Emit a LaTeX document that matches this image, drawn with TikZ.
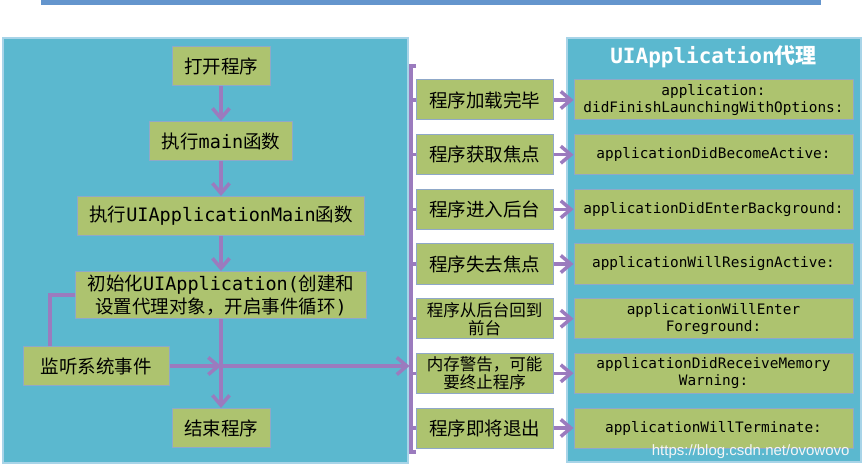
\documentclass[tikz,border=0pt]{standalone}
\usepackage{fontspec}
\setmainfont{DejaVu Sans Mono}
\newfontfamily\cjk{Noto Sans CJK SC}
\newfontfamily\urlfont{Liberation Sans}
\usetikzlibrary{arrows.meta,positioning,calc}
\newcommand{\zh}[1]{{\cjk #1}}
\definecolor{panelfill}{HTML}{5BB8CF}
\definecolor{panelline}{HTML}{A8D4E8}
\definecolor{boxfill}{HTML}{ADC36F}
\definecolor{boxline}{HTML}{8FA8C8}
\definecolor{flowcol}{HTML}{9B7BBE}
\definecolor{topbar}{HTML}{6495CD}
\tikzset{
  >={Straight Barb[length=10pt,width=17pt]},
  panel/.style={draw=panelline, line width=1.5pt, fill=panelfill},
  stepbox/.style={draw=boxline, line width=1pt, fill=boxfill, minimum height=39pt,
    inner xsep=12pt, inner ysep=2pt, align=center, font=\fontsize{18.5}{23}\selectfont},
  eventbox/.style={stepbox, minimum width=137pt, minimum height=40pt, inner xsep=1pt,
    font=\cjk\fontsize{18.5}{21}\selectfont},
  smallzh/.style={font=\cjk\fontsize{16.5}{18}\selectfont},
  methodbox/.style={stepbox, minimum width=279pt, minimum height=40pt, inner xsep=2pt,
    font=\fontsize{14.4}{17}\selectfont},
  title/.style={text=white, font=\bfseries\fontsize{21}{23}\selectfont},
  flow/.style={->, draw=flowcol, line width=3.5pt},
  bus/.style={draw=flowcol, line width=3.5pt, line join=miter},
}
\begin{document}
\begin{tikzpicture}[x=1pt,y=-1pt]
    \useasboundingbox (0,0) rectangle (864,470);

    % Top rule
    \fill[topbar] (41,0) rectangle (821,5);

    % Panels
    \draw[panel] (3,38) rectangle (408,463);
    \draw[panel] (567,38) rectangle (861,462);

    % Program flow
    \node[stepbox] (open) at (221,66) {\zh{打开程序}};
    \node[stepbox] (main) at (221,141) {\zh{执行}main\zh{函数}};
    \node[stepbox] (uimain) at (221,216) {\zh{执行}UIApplicationMain\zh{函数}};
    \node[stepbox, minimum height=47pt] (init) at (221,295)
        {\zh{初始化}UIApplication(\zh{创建和}\\\zh{设置代理对象，开启事件循环})};
    \node[stepbox, minimum width=146pt, inner xsep=2pt] (listen) at (96,366) {\zh{监听系统事件}};
    \node[stepbox] (finish) at (221,428) {\zh{结束程序}};

    \draw[flow] (open) -- (main);
    \draw[flow] (main) -- (uimain);
    \draw[flow] (uimain) -- (init);
    \draw[flow] (init) -- (finish);

    \coordinate (tap) at (50,0);
    \draw[bus] (listen.north -| tap) |- (init.west);

    % Events to the delegate
    \coordinate (meet) at (init.south |- listen.east);
    \coordinate (bustop) at (416,66);
    \coordinate (busbot) at (416,452);
    \coordinate (busx) at (409.5,0);
    \draw[bus] (bustop) -- ++(-5,0) |- (busbot);
    \draw[flow] (listen.east) -- (meet);
    \draw[flow] (meet) -- (meet -| busx);

    \node[eventbox] (ev1) at (484.5,100) {程序加载完毕};
    \node[eventbox] (ev2) at (484.5,154.7) {程序获取焦点};
    \node[eventbox] (ev3) at (484.5,209.3) {程序进入后台};
    \node[eventbox] (ev4) at (484.5,264) {程序失去焦点};
    \node[eventbox, smallzh] (ev5) at (484.5,318.7) {程序从后台回到\\前台};
    \node[eventbox, smallzh] (ev6) at (484.5,373.3) {内存警告，可能\\要终止程序};
    \node[eventbox] (ev7) at (484.5,428) {程序即将退出};

    % Delegate methods
    \node[title] (deltitle) at (713.5,57) {UIApplication\zh{代理}};
    \node[methodbox] (m1) at (713.5,100) {application:\\didFinishLaunchingWithOptions:};
    \node[methodbox] (m2) at (713.5,154.7) {applicationDidBecomeActive:};
    \node[methodbox] (m3) at (713.5,209.3) {applicationDidEnterBackground:};
    \node[methodbox] (m4) at (713.5,264) {applicationWillResignActive:};
    \node[methodbox] (m5) at (713.5,318.7) {applicationWillEnter\\Foreground:};
    \node[methodbox] (m6) at (713.5,373.3) {applicationDidReceiveMemory\\Warning:};
    \node[methodbox] (m7) at (713.5,428) {applicationWillTerminate:};

    \foreach \i in {1,...,7} {
        \draw[bus] (ev\i.west -| bustop) ++(-5,0) -- (ev\i.west);
        \draw[flow] (ev\i) -- (m\i);
    }

    \node[anchor=base east, text=white!92!gray, font=\urlfont\fontsize{15}{16}\selectfont]
        (mark) at (853,455) {https://blog.csdn.net/ovowovo};

\end{tikzpicture}
\end{document}
